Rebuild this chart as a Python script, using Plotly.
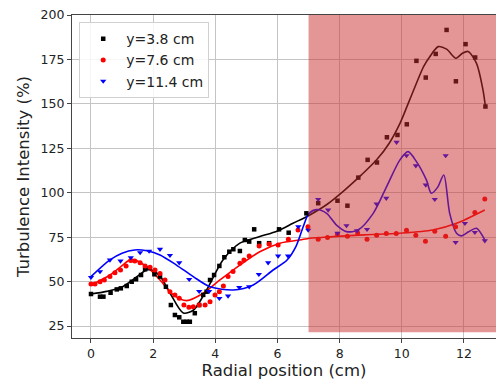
import plotly.graph_objects as go

# ---- data ----
x_38 = [0, 0.29, 0.4, 0.63, 0.83, 0.96, 1.15, 1.31, 1.45, 1.61, 1.74, 1.87, 2.04, 2.22, 2.41,
        2.57, 2.70, 2.84, 2.97, 3.08, 3.18, 3.34, 3.48, 3.61, 3.72, 3.83, 3.96, 4.13, 4.29,
        4.45, 4.58, 4.79, 4.95, 5.09, 5.25, 5.41, 5.73, 6.05, 6.36, 6.93, 7.31, 7.93, 8.25,
        8.6, 8.9, 9.2, 9.52, 9.86, 10.16, 10.47, 10.77, 11.09, 11.44, 11.74, 12.05, 12.36, 12.69]
y_38 = [43.0, 41.5, 41.5, 43.7, 45.6, 46.2, 47.5, 49.9, 51.3, 53.7, 56.9, 57.5, 54.1, 52.8, 47.1,
        36.8, 31.2, 29.9, 27.4, 27.4, 27.4, 32.2, 36.8, 42.5, 44.3, 50.9, 53.7, 58.8, 63.7,
        66.8, 68.2, 67.2, 73.4, 72.5, 79.4, 71.6, 71.6, 79.4, 77.5, 88.4, 94.1, 95.5, 92.7,
        108.5, 118.5, 117.0, 131.2, 132.5, 138.5, 174.2, 164.8, 178.1, 191.6, 162.7, 183.6, 176.1, 148.5]

x_76 = [0, 0.13, 0.29, 0.43, 0.61, 0.77, 0.95, 1.13, 1.28, 1.41, 1.58, 1.74, 1.9, 2.06, 2.22,
        2.38, 2.54, 2.70, 2.84, 2.99, 3.15, 3.29, 3.48, 3.67, 3.83, 3.99, 4.13, 4.26, 4.41,
        4.57, 4.79, 4.92, 5.09, 5.41, 5.73, 6.02, 6.35, 6.66, 6.98, 7.31, 7.61, 7.93, 8.25,
        8.58, 8.88, 9.19, 9.5, 9.82, 10.15, 10.45, 10.76, 11.06, 11.41, 11.73, 12.35, 12.67]
y_76 = [48.6, 48.6, 49.9, 50.9, 52.8, 55.0, 56.5, 58.8, 61.8, 61.6, 60.6, 58.8, 58.0, 56.5, 54.6,
        50.9, 44.3, 42.5, 40.6, 36.8, 35.5, 35.9, 36.8, 36.8, 38.7, 42.5, 44.3, 47.5, 52.8,
        55.6, 60.3, 62.2, 64.4, 70.0, 71.1, 70.6, 73.8, 79.0, 80.9, 73.8, 74.8, 76.6, 75.5,
        77.4, 73.8, 76.1, 77.0, 77.0, 78.9, 76.1, 72.7, 78.3, 75.5, 80.9, 88.9, 96.5]

x_114 = [0, 0.29, 0.61, 0.95, 1.28, 1.58, 1.87, 2.22, 2.54, 2.84, 3.16, 3.48, 3.80, 4.13, 4.41,
         4.77, 5.09, 5.40, 5.70, 6.02, 6.34, 6.67, 6.99, 7.31, 7.63, 7.93, 8.22, 8.56, 8.88,
         9.19, 9.5, 9.83, 10.15, 10.45, 10.77, 11.06, 11.41, 11.73, 12.03, 12.35, 12.67]
y_114 = [52.4, 55.6, 62.2, 61.6, 63.5, 66.3, 67.2, 68.2, 64.8, 60.6, 51.3, 44.5, 44.5, 40.6, 41.9,
         46.8, 47.1, 54.1, 60.6, 64.4, 64.4, 80.9, 79.0, 96.3, 90.3, 77.2, 81.5, 78.6, 79.4,
         93.7, 96.9, 128.4, 120.9, 115.2, 104.4, 96.3, 120.9, 72.1, 82.8, 77.7, 73.0]

# smooth fit curves
fx_38 = [0, 0.5, 1.0, 1.5, 1.85, 2.2, 2.54, 2.97, 3.3, 3.72, 4.24, 4.79, 5.43, 6.0, 6.5, 7.04,
         7.6, 8.17, 8.7, 9.19, 9.6, 9.94, 10.2, 10.47, 10.7, 10.9, 11.17, 11.44, 11.74, 11.95,
         12.13, 12.4, 12.61, 12.69]
fy_38 = [43, 44.5, 47, 53, 57, 53.5, 43.6, 32.3, 34, 45.3, 62, 71.6, 75.3, 78.5, 82.8, 87.5,
         93.5, 101.6, 110, 118.5, 128, 139, 150, 161.6, 171, 176.5, 182.2, 180.8, 175.7, 178.5,
         179.5, 172.9, 157.9, 148.5]

fx_76 = [0, 0.61, 1.0, 1.3, 1.79, 2.22, 2.65, 3.08, 3.61, 4.15, 4.79, 5.43, 6.08, 6.72, 7.04,
         7.79, 8.8, 9.94, 11.0, 11.76, 12.67]
fy_76 = [48, 53.7, 59, 62.5, 58.4, 50.9, 42.5, 39.3, 43.4, 50.9, 59.3, 66.8, 71.6, 73.4, 74.4,
         75.3, 76.3, 77.2, 79, 82.8, 90.3]

fx_114 = [0, 0.61, 1.0, 1.4, 1.8, 2.22, 2.75, 3.29, 3.83, 4.58, 5.22, 5.86, 6.3, 6.6, 6.85, 7.0,
          7.25, 7.58, 7.9, 8.22, 8.59, 9.08, 9.5, 9.94, 10.2, 10.47, 10.79, 10.95, 11.15, 11.35,
          11.54, 11.76, 11.92, 12.15, 12.4, 12.67]
fy_114 = [52.8, 62.2, 66, 67.8, 67.3, 65, 59.3, 52.8, 47.1, 45.3, 48.1, 56.5, 62, 70, 82, 88,
          90.5, 88.4, 81.8, 78.1, 79, 88.4, 103, 118.5, 123.1, 117.5, 107.2, 99.7, 103, 110,
          88.4, 77.2, 75.7, 78, 80, 73.4]

series_names = ["y=3.8 cm", "y=7.6 cm", "y=11.4 cm"]
x_ticks = [0, 2, 4, 6, 8, 10, 12]
y_ticks = [25, 50, 75, 100, 125, 150, 175, 200]
shade_x = [7.0, 13.2]
shade_y = [21.5, 200]

FONT = "DejaVu Sans"
fig = go.Figure()

cols = ["#000000", "#ff0000", "#0000ff"]
syms = ["square", "circle", "triangle-down"]
sizes = [4.5, 5, 5.5]
pts = [(x_38, y_38), (x_76, y_76), (x_114, y_114)]
fits = [(fx_38, fy_38), (fx_76, fy_76), (fx_114, fy_114)]

for i in range(3):
    fig.add_trace(go.Scatter(x=fits[i][0], y=fits[i][1], mode="lines",
                             line=dict(color=cols[i], width=1.6, shape="spline", smoothing=0.8),
                             showlegend=False, hoverinfo="skip"))
for i in range(3):
    fig.add_trace(go.Scatter(x=pts[i][0], y=pts[i][1], mode="markers", name=series_names[i],
                             legendgroup=f"g{i}",
                             marker=dict(color=cols[i], symbol=syms[i], size=sizes[i],
                                         line=dict(width=0))))

fig.add_shape(type="rect", xref="x", yref="y", x0=shade_x[0], x1=shade_x[1],
              y0=shade_y[0], y1=shade_y[1], fillcolor="rgba(201,45,45,0.5)",
              line=dict(width=0), layer="above")

axis_common = dict(showgrid=True, gridcolor="#c4c4c4", gridwidth=1, zeroline=False,
                   showline=True, linecolor="#444444", linewidth=1.2,
                   ticks="outside", ticklen=4, tickcolor="#444444",
                   tickfont=dict(family=FONT, size=12.5, color="#222222"))

fig.update_xaxes(range=[-0.611, 13.03], tickvals=x_ticks, mirror=True,
                 title=dict(text="Radial position (cm)", font=dict(family=FONT, size=16.5, color="#222222"),
                            standoff=4),
                 **axis_common)
fig.update_yaxes(range=[18.25, 200], tickvals=y_ticks,
                 title=dict(text="Turbulence Intensity (%)", font=dict(family=FONT, size=16.5, color="#222222"),
                            standoff=6),
                 **axis_common)

fig.update_layout(
    width=496, height=386,
    margin=dict(l=72, r=0, t=15, b=48, autoexpand=False),
    plot_bgcolor="white", paper_bgcolor="white",
    font=dict(family=FONT, color="#222222"),
    legend=dict(x=0.017, y=0.978, xanchor="left", yanchor="top",
                bgcolor="rgba(255,255,255,0.85)", bordercolor="#d0d0d0", borderwidth=1,
                font=dict(family=FONT, size=14, color="#222222"),
                itemwidth=36, tracegroupgap=3, traceorder="normal"),
)

fig.write_html("out.html")
